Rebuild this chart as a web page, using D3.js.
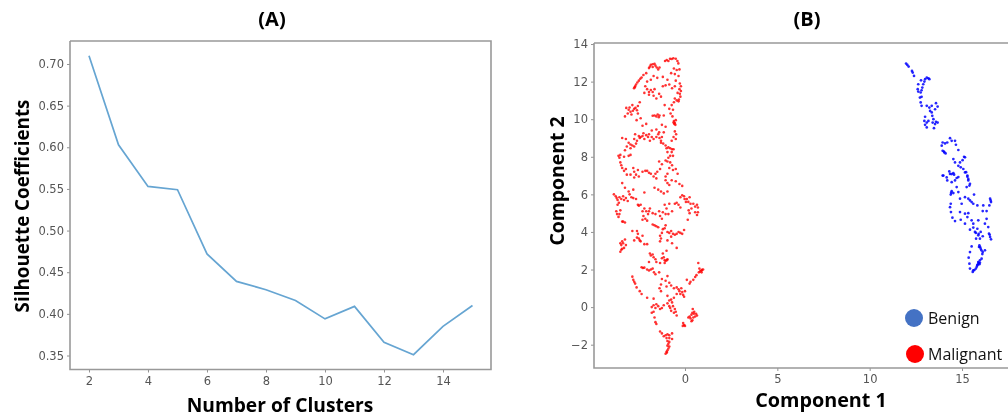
<!DOCTYPE html>
<html>
<head>
<meta charset="utf-8">
<script src="https://cdn.jsdelivr.net/npm/d3@7"></script>
<style>
html, body { margin: 0; padding: 0; background: #fff; overflow: hidden; }
svg { display: block; filter: blur(0.35px); }
.tick text { font-family: "DejaVu Sans", sans-serif; font-size: 11.5px; fill: #555; }
.label { font-family: "Open Sans", sans-serif; font-weight: 700; fill: #000; }
</style>
</head>
<body>
<svg id="chart" width="1008" height="419"></svg>
<script>
// panel A
var clusters = [2, 3, 4, 5, 6, 7, 8, 9, 10, 11, 12, 13, 14, 15];
var silhouette = [0.71, 0.603, 0.553, 0.549, 0.472, 0.439, 0.429, 0.416, 0.394, 0.409, 0.366, 0.351, 0.385, 0.41];
var clusterTicks = [2, 4, 6, 8, 10, 12, 14];
var silhouetteTicks = [0.35, 0.40, 0.45, 0.50, 0.55, 0.60, 0.65, 0.70];

// panel B
var comp1Ticks = [0, 5, 10, 15];
var comp2Ticks = [-2, 0, 2, 4, 6, 8, 10, 12, 14];
var legendNames = ['Benign', 'Malignant'];
var legendColors = ['#4472c4', '#ff0000'];

var benign = [
[11.97,12.96],[12.04,12.89],[12.11,12.8],[12.29,12.57],[12.33,12.48],[12.4,12.3],[13,12.13],[13.09,12.21],[13.18,12.18],[13.23,12.13],
[12.96,12],[12.9,11.86],[12.85,11.68],[12.78,12.07],[12.63,11.86],[12.6,11.6],[12.63,11.47],[12.76,11.42],[12.81,11.54],[12.72,11.15],[12.81,11.19],
[12.76,10.89],[12.81,10.71],[13.09,10.71],[13.23,10.62],[13.36,10.71],[13.59,10.85],[13.68,10.67],[13.54,10.53],[13.27,10.44],[13.36,10.36],
[13.39,10.18],[13.45,10],[13.41,9.82],[13.18,9.91],[13.09,9.82],[13,10.13],[12.96,9.91],[13,9.7],[13.09,9.56],[13.48,9.52],[13.59,9.86],[13.68,9.82],[13.54,9.74],
[14.35,8.99],[14.44,8.85],[14.62,8.85],[14.67,8.64],[14.8,8.36],[13.95,8.76],[13.9,8.59],[14.2,8.76],[14.08,8.71],[13.95,8.32],[14.04,8.23],[14.11,8.18],[14.02,8.28],
[15.11,8],[15.16,7.97],[15.03,7.82],[14.89,7.7],[14.53,7.88],[14.62,7.7],[14.8,7.52],[14.93,7.44],[15.07,7.35],[15.16,7.17],[15.29,6.94],[15.34,6.82],
[13.95,7],[14.17,6.9],[14.31,7.22],[14.44,7.08],[14.57,7.05],[14.71,6.87],
[13.99,7],[14.2,6.74],[14.44,6.65],[14.62,6.74],[14.8,6.92],[14.35,7.09],[14.53,7.13],[15.22,7.18],[15.29,7],[15.34,6.74],[15.4,6.47],[15.25,6.39],[15.43,6.56],
[14.44,6.17],[14.53,6.07],[14.71,6.39],[14.8,6.12],[14.39,5.99],[14.41,6.08],[15.16,5.85],[15.34,5.77],[15.43,5.68],[15.52,5.59],[15.65,5.99],[14.89,5.77],[14.98,5.5],
[15.61,5.5],[15.83,5.41],[16.15,5.41],[16.52,5.77],[16.57,5.59],[16.48,5.41],[16.33,5.11],[16.12,5.11],[16.55,5.68],
[14.39,5.5],[14.35,5.32],[14.4,5.06],[14.48,4.76],[14.62,4.58],[14.89,5.06],[14.93,4.65],[15.16,4.97],[15.34,5],[15.29,4.79],[15.16,4.44],[15.52,4.62],[15.61,4.44],[15.88,4.62],
[16.33,4.7],[16.24,4.44],[16.42,4.26],[16.46,3.91],[16.52,3.73],[16.57,3.61],[16.5,3.85],[15.43,4.12],[15.61,4.23],[15.7,4],[15.83,4.17],[16.01,4],[15.88,3.82],[15.97,3.64],[15.76,3.64],[16.12,3.77],[15.9,3.9],[15.75,3.95],
[15.94,3.29],[16.01,3.11],[16.12,2.93],[16.24,3.02],[15.52,3.23],[15.43,2.93],[15.36,2.63],[15.4,2.31],[15.43,2.05],[15.58,1.87],[15.61,1.96],[15.83,2.23],[15.88,2.4],[15.97,2.49],[16.06,2.58],[15.94,2.28],
[15.9,2.35],[15.86,2.28],[15.97,2.36],[15.8,2.15],[15.75,2.05],[15.67,1.97],[15.92,3.2],[16.05,3.02],[16.1,2.82],[15.98,3.2]
];

var malignant = [
[-1.08,13.1],[-0.99,13.15],[-0.81,13.22],[-0.63,13.24],[-0.5,13.22],[-0.41,13.1],[-0.36,12.97],[-0.9,13.1],[-0.72,13.2],
[-1.9,12.8],[-1.85,12.9],[-1.75,12.92],[-1.65,12.95],[-1.6,12.85],[-1.53,12.75],[-1.45,12.65],[-1.38,12.75],[-1.75,12.78],[-1.95,12.72],
[-2.76,11.65],[-2.7,11.75],[-2.65,11.85],[-2.58,11.95],[-2.5,12.05],[-2.42,12.15],[-2.35,12.22],[-2.25,12.35],[-2.1,12.45],[-2.72,11.7],
[-2.05,12],[-1.85,12.1],[-1.7,12.3],[-1.5,12.2],[-1.2,12.25],[-0.95,12.1],[-0.75,12.45],[-0.6,12.7],[-0.45,12.62],[-0.3,12.65],[-0.55,12.4],[-0.35,12.3],[-0.5,12.05],
[-0.28,11.9],[-0.22,11.75],[-0.3,11.6],[-0.22,11.5],[-0.28,11.35],[-0.25,11.2],[-0.33,11.05],[-0.45,11],[-0.55,11.1],[-0.35,10.95],[-0.4,11.4],[-0.55,11.75],[-0.7,11.65],[-0.85,11.85],[-1.05,11.8],[-1.2,11.75],
[-2.15,11.75],[-2.05,11.6],[-1.95,11.45],[-1.85,11.55],[-1.75,11.45],[-1.65,11.6],[-2.2,11.4],[-1.95,11.3],[-1.7,11.25],[-1.55,11.1],[-1.4,11.35],[-1.3,11.2],[-2.45,10.9],
[-1.1,10.75],[-0.85,10.55],[-0.72,10.75],[-0.6,10.9],[-0.78,10.3],[-0.68,10.15],[-0.65,10.5],
[-3.1,10.3],[-3.05,10.5],[-3,10.62],[-2.95,10.4],[-2.9,10.25],[-2.82,10.45],[-2.75,10.55],[-2.68,10.6],[-2.6,10.48],[-2.55,10.3],[-3.25,10.15],[-2.85,10.75],[-2.55,10.7],[-2.4,10.05],[-2.62,9.95],[-3.18,10.6],
[-1.65,10.2],[-1.55,10.15],[-1.48,10.25],[-1.42,10.1],[-1.38,10.2],[-1.75,10.18],[-1.15,10.2],
[-0.6,9.9],[-0.55,9.8],[-0.5,9.95],[-0.58,9.75],[-0.52,9.7],[-0.62,9.82],[-0.55,9.35],[-0.48,9.2],[-0.62,9.05],[-0.5,8.95],[-0.72,8.85],
[-2.1,9.75],[-2.3,9.65],[-1.8,9.4],[-1.55,9.45],[-1.25,9.7],[-1.15,9.3],[-1.05,9.6],[-2.7,9.2],[-2.5,9.1],[-2.45,9],
[-2.4,9.05],[-2.3,9.1],[-2.2,8.95],[-2.1,9.15],[-2,9.05],[-1.9,8.85],[-1.8,9.05],[-1.7,8.95],[-1.95,9.2],[-2.25,9.25],[-1.55,9.05],
[-1.45,9.2],[-1.38,9],[-1.3,8.85],[-1.25,9.05],[-1.18,8.7],[-1.05,8.6],[-1.3,8.75],[-1.4,9.3],
[-3.4,9],[-3.2,8.95],[-3.05,8.75],[-2.95,8.65],[-2.85,8.6],[-2.75,8.55],[-2.65,8.7],[-3.15,8.55],[-3.25,8.35],[-2.95,8.45],[-2.6,8.85],[-2.75,8.95],
[-1,8.45],[-0.9,8.5],[-0.8,8.45],[-0.7,8.4],[-0.62,8.4],[-0.95,8.25],[-0.72,8.25],[-0.8,8.05],[-0.65,8.05],[-0.9,7.95],
[-3.6,8.05],[-3.55,7.95],[-3.5,8.1],[-3.3,8],[-3.05,8.05],[-2.95,8.1],[-3.5,7.7],[-3.45,7.55],[-3.4,7.4],[-3.3,7.25],[-3.2,7.35],[-3.15,7.05],[-2.95,7.05],[-2.8,7.4],[-2.75,7.2],[-2.55,7.3],[-2.75,6.9],[-2.5,6.95],[-2.65,7.05],
[-2.3,7.2],[-2.15,7.25],[-2.05,7.25],[-1.95,7.15],[-1.85,7.1],[-1.7,6.95],[-1.6,7.1],[-1.5,7.2],[-1.35,7.35],[-1.25,7.6],[-1.4,7.75],[-1.55,6.85],
[-1.05,7.8],[-0.95,7.75],[-0.8,7.7],[-0.7,7.55],[-0.85,7.4],[-0.65,7.3],[-0.5,7.35],[-0.4,7.1],[-0.95,7.1],[-1.05,6.95],[-1.05,6.75],[-0.95,6.6],[-0.85,6.5],[-0.72,6.75],[-0.5,6.7],[-0.3,6.55],[-0.15,6.45],
[-3.4,6.6],[-3.25,6.35],[-1.65,6.35],[-1.45,6.25],[-1.3,6.15],[-1.15,6.05],[-0.95,6.15],[-2.2,6.1],
[-3.85,6],[-3.75,5.9],[-3.7,5.8],[-3.65,5.7],[-3.55,5.85],[-3.45,5.75],[-3.35,5.9],[-3.3,5.7],[-3.2,5.8],[-3.1,5.65],[-3,6],[-2.9,5.85],[-2.8,5.8],[-2.65,5.75],[-3.05,6.15],[-2.8,6.25],[-2.55,5.45],[-2.5,5.4],[-2.4,5.45],[-3.65,5.45],[-3.58,5.55],[-3.72,5.1],[-3.68,4.95],[-3.6,4.8],[-3.55,4.95],[-3.5,5.15],
[-3.35,4.55],[-3.25,4.5],
[-2.3,5.1],[-2.2,5.25],[-2.1,5.1],[-2,4.95],[-1.95,5.1],[-2.25,4.85],[-2.15,4.7],[-2.05,4.6],[-2.3,4.65],[-1.9,5.25],[-1.75,5],[-1.6,4.95],[-1.4,5.1],[-1.35,4.85],[-1.25,4.7],[-1.2,5.05],[-1.05,4.95],[-1,5.25],[-0.9,4.95],[-1.1,5.45],[-0.85,5.5],[-0.7,5.1],
[-0.55,5.5],[-0.45,5.55],[-0.35,5.45],[-0.25,5.85],[-0.15,5.95],[-0.05,5.9],[-0.02,5.75],[0.05,5.6],[-0.25,5.3],[0.1,5.75],[0.25,5.85],[0.18,5.6],[0.3,5.5],[0.45,5.5],[0.55,5.35],[0.65,5.45],[0.7,5.3],[0.35,5.25],[0.25,5],[0.55,5.05],[0.7,5.05],[0.65,4.9],[0.15,4.65],[0.2,5.15],
[-3.4,4.55],[-1.75,4.4],[-1.65,4.35],[-1.55,4.3],[-1.45,4.25],[-1.2,4.15],[-1.05,4.35],[-1.1,4.2],[-0.95,4],
[-0.85,3.95],[-0.75,4.05],[-0.65,3.9],[-0.55,3.85],[-0.45,3.9],[-0.35,4],[-0.25,3.95],[-0.15,3.9],[-0.05,4.1],[-0.75,3.75],[-0.95,3.55],[-0.7,3.4],[-0.45,3.15],[-1.25,3.95],
[-1.35,3.8],[-1.3,3.65],[-1.35,3.5],
[-3.5,3.4],[-3.45,3.3],[-3.4,3.5],[-3.35,3.4],[-3.25,3.6],[-3.2,3.3],[-3.3,3.15],[-3.4,3.1],[-3.5,2.95],[-3.45,3.05],[-2.85,4.05],[-2.6,4.05],[-2.75,3.55],
[-2.6,3.7],[-2.5,3.65],[-2.45,3.55],[-2.4,3.5],[-2.3,3.8],[-2.55,3.9],[-2.2,3.35],[-2.05,3.35],
[-1.9,2.85],[-1.85,2.75],[-1.75,2.8],[-1.7,2.65],[-1.6,2.55],[-1.55,2.4],[-1.95,2.4],[-1.35,2.35],[-1.25,2.6],[-1.2,2.85],
[-1.15,2.65],[-1.1,2.5],[-1.05,2.45],[-0.98,2.5],[-0.95,2.55],[-1.1,2.35],[-1,3],
[-2.35,2.12],[-2.28,2.08],[-2.2,2.1],[-2.05,2],[-1.95,1.95],[-1.85,2],[-1.75,2.05],[-1.68,1.85],[-1.6,1.75],[-1.4,1.85],
[-1.25,1.5],[-1.05,1.4],[-0.95,1.65],[-0.85,1.3],[-1,1.1],[-1.3,1.2],[-1.38,1],[-1.3,0.85],
[0.72,2.35],[0.78,2.05],[0.82,1.9],[0.88,1.95],[0.92,1.98],[0.98,2],[0.9,1.85],[0.75,1.85],[0.62,1.7],[0.55,1.6],[0.45,1.45],[0.3,1.35],[0.1,1.45],[0.25,1.25],
[-2.85,1.62],[-2.8,1.45],[-2.75,1.35],[-2.7,1.25],[-2.62,1.05],[-2.45,0.85],[-2.35,0.7],[-2.05,0.5],[-1.7,0.45],
[-0.75,1.15],[-0.6,1],[-0.45,1.05],[-0.35,0.95],[-0.3,0.85],[-0.2,1],[-0.15,0.8],[-0.1,0.65],[0,0.85],[-0.05,0.55],[-0.25,0.7],[-0.45,0.7],[-0.6,0.5],[-0.75,0.4],[-0.85,0.35],[-0.95,0.6],
[-1.8,0],[-1.7,0.1],[-1.6,-0.05],[-1.55,0.15],[-1.45,0.05],[-1.35,-0.1],[-1.25,-0.05],[-1.15,0.1],[-1.7,-0.25],[-1.8,-0.3],[-1.65,-0.55],[-1.6,-0.8],[-1.55,-0.9],
[-0.95,0.2],[-0.85,0.05],[-0.8,-0.05],[-0.7,0.25],[-0.65,0.05],[-0.55,-0.1],[-0.75,-0.2],[-0.6,-0.3],[-0.5,-0.25],[-0.45,-0.45],
[-0.1,-0.85],[-0.05,-0.95],[0,-1],[-0.12,-1],[0.18,-0.55],[0.25,-0.5],[0.3,-0.6],[0.35,-0.4],[0.4,-0.3],[0.42,-0.1],[0.48,-0.35],[0.55,-0.5],[0.6,-0.35],[0.45,-0.55],[0.4,-0.7],[0.35,-0.75],[0.65,-0.45],[0.5,-0.25],
[-1.35,-1.3],[-1.25,-1.4],[-1.15,-1.55],[-1.05,-1.5],[-0.95,-1.45],[-0.85,-1.5],[-0.7,-1.4],[-1,-1.65],[-0.85,-1.65],[-0.7,-1.7],[-0.95,-1.8],[-0.85,-1.85],[-0.9,-1.95],[-0.95,-2.05],[-0.85,-2.1],[-0.9,-2.2],[-0.95,-2.3],[-1,-2.38],[-1.05,-2.48],[-0.98,-2.42]
];

var svg = d3.select('#chart');

// panel A
var xA = d3.scaleLinear().domain([1.356, 15.627]).range([70, 491]);
var yA = d3.scaleLinear().domain([0.3332, 0.7276]).range([369.5, 41]);

function frame(g, x, y, w, h, right) {
    g.append('path')
        .attr('d', 'M' + x + ' ' + y + 'H' + (x + w) + (right ? 'V' + (y + h) : '') + (right ? '' : 'M' + (x + w) + ' ' + (y + h)) + 'H' + x + 'V' + y)
        .attr('fill', 'none').attr('stroke', '#999').attr('stroke-width', 1.6);
}

function axisStyle(g) {
    g.select('.domain').remove();
    g.selectAll('.tick line').attr('stroke', '#777').attr('stroke-width', 0.8);
}

svg.append('path')
    .datum(clusters.map(function (c, i) { return [c, silhouette[i]]; }))
    .attr('fill', 'none').attr('stroke', '#66a5d2').attr('stroke-width', 1.7)
    .attr('d', d3.line().x(function (d) { return xA(d[0]); }).y(function (d) { return yA(d[1]); }));

svg.append('g').attr('transform', 'translate(0,369.5)')
    .call(d3.axisBottom(xA).tickValues(clusterTicks).tickFormat(d3.format('d')).tickSize(3).tickPadding(4))
    .call(axisStyle);
svg.append('g').attr('transform', 'translate(70,0)')
    .call(d3.axisLeft(yA).tickValues(silhouetteTicks).tickFormat(d3.format('.2f')).tickSize(3).tickPadding(3))
    .call(axisStyle);
frame(svg, 70, 41, 421, 328.5, true);

// panel B
var xB = d3.scaleLinear().domain([-4.927, 17.5]).range([594, 1008.2]);
var yB = d3.scaleLinear().domain([-3.24, 14.06]).range([368, 42.9]);

svg.append('g').selectAll('circle').data(malignant).join('circle')
    .attr('cx', function (d) { return xB(d[0]); })
    .attr('cy', function (d) { return yB(d[1]); })
    .attr('r', 1.3).attr('fill', '#ff0000').attr('fill-opacity', 0.8);
svg.append('g').selectAll('circle').data(benign).join('circle')
    .attr('cx', function (d) { return xB(d[0]); })
    .attr('cy', function (d) { return yB(d[1]); })
    .attr('r', 1.35).attr('fill', '#0000ff').attr('fill-opacity', 0.85);

svg.append('g').attr('transform', 'translate(0,368)')
    .call(d3.axisBottom(xB).tickValues(comp1Ticks).tickFormat(d3.format('d')).tickSize(3).tickPadding(4))
    .call(axisStyle);
svg.append('g').attr('transform', 'translate(594,0)')
    .call(d3.axisLeft(yB).tickValues(comp2Ticks).tickFormat(function (d) { return d < 0 ? '\u2212' + (-d) : d; }).tickSize(3).tickPadding(3))
    .call(axisStyle);
frame(svg, 594, 43, 416, 325, false);

// legend
var legendY = d3.scalePoint().domain(legendNames).range([318, 354]);
legendNames.forEach(function (n, i) {
    svg.append('circle').attr('cx', 914 + i).attr('cy', legendY(n)).attr('r', 9).attr('fill', legendColors[i]);
    svg.append('text').attr('x', 928).attr('y', legendY(n) + 6)
        .attr('font-family', '"Open Sans", sans-serif').attr('font-size', 16).attr('fill', '#111').text(n);
});

// titles
function label(x, y, text, size, rot) {
    var t = svg.append('text').attr('class', 'label').attr('text-anchor', 'middle')
        .attr('font-size', size).text(text);
    t.attr('transform', 'translate(' + x + ',' + y + ')' + (rot ? ' rotate(-90)' : ''));
}
label(272, 26, '(A)', 20);
label(807, 26, '(B)', 20);
label(280, 412, 'Number of Clusters', 19.2);
label(821, 407, 'Component 1', 19.8);
label(29, 206, 'Silhouette Coefficients', 18.8, true);
label(564, 181, 'Component 2', 19.4, true);
</script>
</body>
</html>
